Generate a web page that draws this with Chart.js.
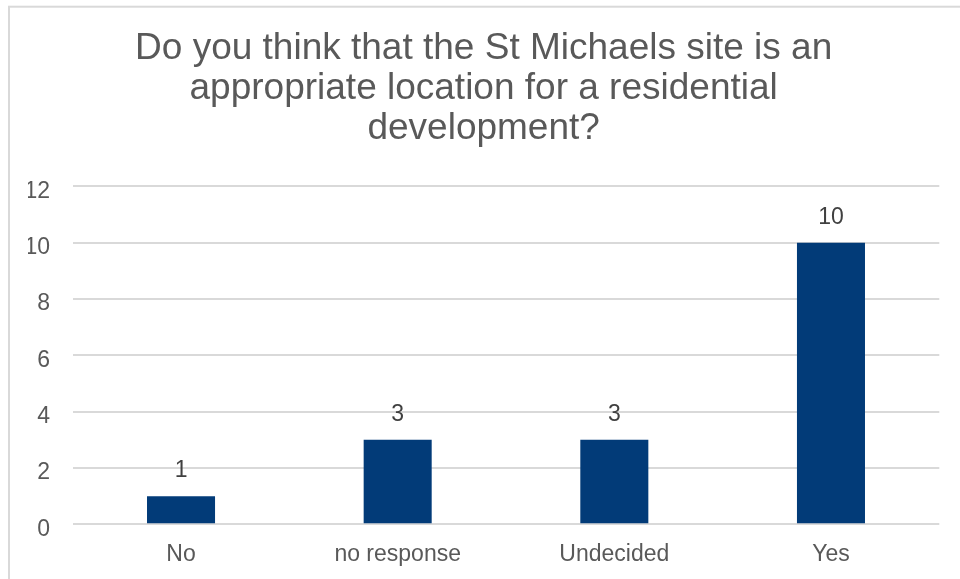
<!DOCTYPE html>
<html>
<head>
<meta charset="utf-8">
<title>St Michaels site survey</title>
<script src="https://cdn.jsdelivr.net/npm/chart.js@4.4.1/dist/chart.umd.min.js"></script>
<style>
    body { margin: 0; background: #ffffff; }
    #surveyChart { display: block; }
</style>
</head>
<body>
<canvas id="surveyChart" width="960" height="579"></canvas>
<script>
var answers = ['No', 'no response', 'Undecided', 'Yes'];
var responses = [1, 3, 3, 10];
var yTicks = [0, 2, 4, 6, 8, 10, 12];
var titleLines = [
    'Do you think that the St Michaels site is an',
    'appropriate location for a residential',
    'development?'
];

document.addEventListener('DOMContentLoaded', function () {
    var fontFamily = '"Liberation Sans", Arial, sans-serif';

    // thin grey frame around the chart
    var framePlugin = {
        id: 'frame',
        beforeDraw: function (chart) {
            var ctx = chart.ctx;
            ctx.save();
            ctx.strokeStyle = '#d9d9d9';
            ctx.lineWidth = 2;
            ctx.strokeRect(9, 6.7, 1200, 1200);
            ctx.restore();
        }
    };

    // value printed above each bar
    var valueLabels = {
        id: 'valueLabels',
        afterDatasetsDraw: function (chart) {
            var ctx = chart.ctx;
            var meta = chart.getDatasetMeta(0);
            ctx.save();
            ctx.font = '23px ' + fontFamily;
            ctx.fillStyle = '#404040';
            ctx.textAlign = 'center';
            ctx.textBaseline = 'middle';
            meta.data.forEach(function (bar, i) {
                ctx.fillText(String(responses[i]), bar.x, bar.y - 25);
            });
            ctx.restore();
        }
    };

    var surveyChartCtx = document.getElementById('surveyChart').getContext('2d');
    new Chart(surveyChartCtx, {
        type: 'bar',
        data: {
            labels: answers,
            datasets: [{
                data: responses,
                backgroundColor: '#023b78',
                categoryPercentage: 1,
                barPercentage: 0.314
            }]
        },
        plugins: [framePlugin, valueLabels],
        options: {
            responsive: false,
            animation: false,
            layout: {
                padding: { left: 28, right: 20.7, top: 0, bottom: 0 }
            },
            plugins: {
                legend: { display: false },
                tooltip: { enabled: false },
                title: {
                    display: true,
                    text: titleLines,
                    color: '#595959',
                    font: { family: fontFamily, size: 37, weight: 'normal', lineHeight: 1.08 },
                    padding: { top: 28.9, bottom: 37.6 }
                }
            },
            scales: {
                x: {
                    grid: { display: false },
                    border: { display: false },
                    ticks: {
                        color: '#595959',
                        font: { family: fontFamily, size: 23 },
                        padding: 9,
                        maxRotation: 0
                    },
                    afterFit: function (scale) { scale.height = 54.7; }
                },
                y: {
                    min: 0,
                    max: 12,
                    afterBuildTicks: function (scale) {
                        scale.ticks = yTicks.map(function (v) { return { value: v }; });
                    },
                    grid: { color: '#d9d9d9', lineWidth: 2, drawTicks: false },
                    border: { display: false },
                    ticks: {
                        color: '#595959',
                        font: { family: fontFamily, size: 23 },
                        padding: 22.7,
                        labelOffset: 5
                    },
                    afterFit: function (scale) { scale.width = 44.7; }
                }
            }
        }
    });
});
</script>
</body>
</html>
